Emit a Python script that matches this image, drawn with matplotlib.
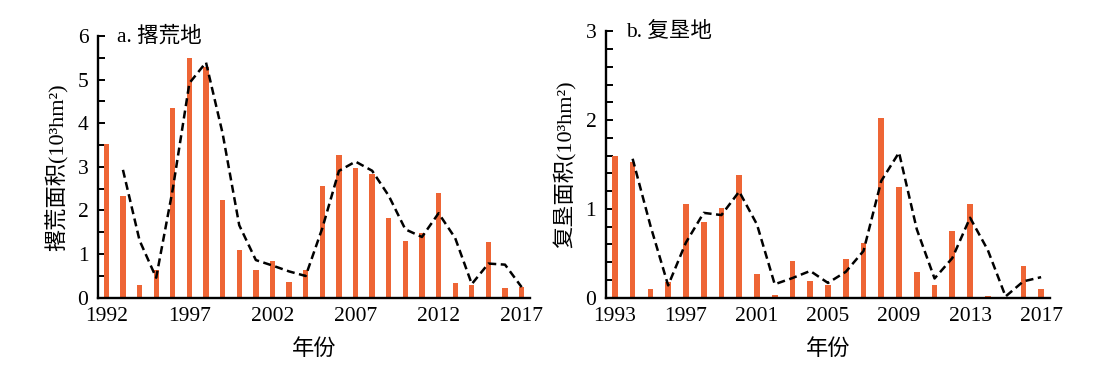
import numpy as np
import pandas as pd
import matplotlib
matplotlib.use('Agg')
from matplotlib import pyplot as plt
from matplotlib.ticker import MultipleLocator

# data (10^3 hm2)
years_a = list(range(1992, 2018))
abandon = [3.52, 2.34, 0.28, 0.63, 4.35, 5.49, 5.30, 2.23, 1.09, 0.63,
           0.84, 0.36, 0.63, 2.55, 3.26, 2.98, 2.84, 1.83, 1.30, 1.48,
           2.39, 0.34, 0.28, 1.28, 0.23, 0.25]
years_b = list(range(1993, 2018))
reclaim = [1.60, 1.53, 0.094, 0.18, 1.06, 0.85, 1.01, 1.38, 0.27, 0.03,
           0.41, 0.19, 0.14, 0.44, 0.61, 2.02, 1.25, 0.29, 0.14, 0.75,
           1.05, 0.02, 0.005, 0.36, 0.10]
labels_a = [1992, 1997, 2002, 2007, 2012, 2017]
labels_b = [1993, 1997, 2001, 2005, 2009, 2013, 2017]

fonts = ['Liberation Serif', 'Noto Sans CJK SC']
plt.rcParams['font.family'] = fonts
plt.rcParams['font.size'] = 15.5
plt.rcParams['axes.unicode_minus'] = False

barcolor = '#EE6535'
fig = plt.figure(figsize=(10.99, 3.66), dpi=100)


def panel(rect, years, vals, ticklabels, ymax, minor, title, ylabel):
    ax = fig.add_axes(rect)
    x = np.arange(len(years))
    ax.bar(x, vals, width=0.32, color=barcolor, zorder=2)
    # 2-period moving average trendline
    ma = pd.Series(vals).rolling(2).mean()
    ax.plot(x[1:], ma[1:], color='black', lw=1.8, ls=(0, (3.2, 1.8)), zorder=3)
    ax.set_xlim(-0.5, len(years) - 0.5)
    ax.set_ylim(0, ymax)
    ax.set_xticks([years.index(y) for y in ticklabels])
    ax.set_xticklabels([str(y) for y in ticklabels])
    ax.yaxis.set_major_locator(MultipleLocator(1))
    ax.yaxis.set_minor_locator(MultipleLocator(minor))
    ax.tick_params(axis='x', length=0, pad=7)
    ax.tick_params(axis='y', which='both', direction='in', length=5, width=1.4, pad=7)
    for s in ['top', 'right']:
        ax.spines[s].set_visible(False)
    for s in ['left', 'bottom']:
        ax.spines[s].set_linewidth(1.7)
    ax.text(0.045, 1.0, title, transform=ax.transAxes, ha='left', va='center', fontsize=15.5)
    ax.set_xlabel('年份', fontsize=16, labelpad=9)
    ax.set_ylabel(ylabel, fontsize=16, labelpad=6)
    return ax


panel([0.0892, 0.187, 0.393, 0.7145], years_a, abandon, labels_a, 6, 0.5,
      'a. 撂荒地', '撂荒面积(10³hm²)')
panel([0.5514, 0.187, 0.404, 0.727], years_b, reclaim, labels_b, 3, 0.2,
      'b. 复垦地', '复垦面积(10³hm²)')

plt.savefig('out.png', dpi=100)
